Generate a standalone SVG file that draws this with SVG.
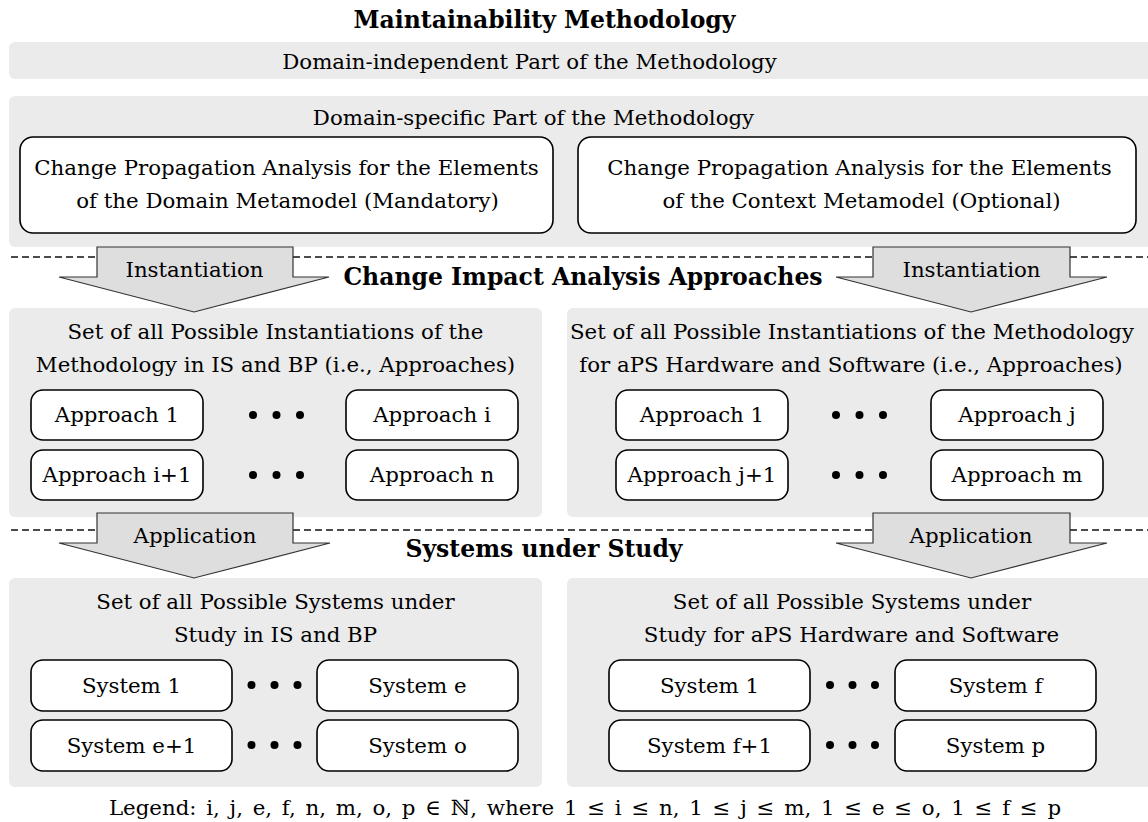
<svg xmlns="http://www.w3.org/2000/svg" width="1148" height="822" viewBox="0 0 1148 822">
<defs>
<style>
.panel{fill:#ebebeb}
.box{fill:#fff;stroke:#000;stroke-width:1.6}
.t{font-family:"DejaVu Serif","Liberation Serif",serif;font-size:21.3px;fill:#000;text-anchor:middle}
.b{font-family:"DejaVu Serif","Liberation Serif",serif;font-weight:bold;font-size:23.5px;fill:#000;text-anchor:middle}
.arrow{fill:#dedede;stroke:#333;stroke-width:1.2;stroke-linejoin:miter}
.sep{fill:none;stroke:#111;stroke-width:1.4;stroke-dasharray:7 4}
.dot{fill:#000}
.leg{word-spacing:3px}
</style>
</defs>
<rect width="1148" height="822" fill="#fff"/>

<g id="title"><text class="b" x="544.5" y="28">Maintainability Methodology</text></g>

<g id="domain-independent">
<rect class="panel" x="9" y="42" width="1160" height="37" rx="6"/>
<text class="t" x="529.5" y="69">Domain-independent Part of the Methodology</text>
</g>

<g id="domain-specific">
<rect class="panel" x="9" y="96" width="1160" height="151" rx="6"/>
<text class="t" x="533.5" y="125">Domain-specific Part of the Methodology</text>
</g>
<g id="cpa-domain">
<rect class="box" x="20" y="137" width="533" height="96" rx="13"/>
<text class="t" x="286.5" y="175">Change Propagation Analysis for the Elements</text>
<text class="t" x="287.5" y="208">of the Domain Metamodel (Mandatory)</text>
</g>
<g id="cpa-context">
<rect class="box" x="578" y="137" width="558" height="96" rx="13"/>
<text class="t" x="859.5" y="175">Change Propagation Analysis for the Elements</text>
<text class="t" x="861.5" y="208">of the Context Metamodel (Optional)</text>
</g>

<g id="separators">
<path class="sep" d="M11 257H97M293 257H873M1070 257H1148"/>
<path class="sep" d="M11 530H97M293 530H873M1070 530H1148"/>
</g>

<g id="label-cia"><text class="b" x="583" y="285">Change Impact Analysis Approaches</text></g>
<g id="label-sus"><text class="b" x="544" y="557">Systems under Study</text></g>

<g id="approaches-isbp">
<rect class="panel" x="9" y="308" width="533" height="209" rx="6"/>
<text class="t" x="275.5" y="339">Set of all Possible Instantiations of the</text>
<text class="t" x="275.5" y="372">Methodology in IS and BP (i.e., Approaches)</text>
</g>
<g id="approach-l-1"><rect class="box" x="31" y="390" width="172" height="50" rx="12"/><text class="t" x="117" y="422">Approach 1</text></g>
<g id="approach-l-i"><rect class="box" x="346" y="390" width="172" height="50" rx="12"/><text class="t" x="432" y="422">Approach i</text></g>
<g id="approach-l-i1"><rect class="box" x="31" y="450" width="172" height="50" rx="12"/><text class="t" x="117" y="482">Approach i+1</text></g>
<g id="approach-l-n"><rect class="box" x="346" y="450" width="172" height="50" rx="12"/><text class="t" x="432" y="482">Approach n</text></g>
<g id="dots-approach-l">
<circle class="dot" cx="253" cy="415" r="4"/><circle class="dot" cx="276.5" cy="415" r="4"/><circle class="dot" cx="300" cy="415" r="4"/>
<circle class="dot" cx="253" cy="475" r="4"/><circle class="dot" cx="276.5" cy="475" r="4"/><circle class="dot" cx="300" cy="475" r="4"/>
</g>

<g id="approaches-aps">
<rect class="panel" x="567" y="308" width="600" height="209" rx="6"/>
<text class="t" x="852" y="339">Set of all Possible Instantiations of the Methodology</text>
<text class="t" x="851" y="372">for aPS Hardware and Software (i.e., Approaches)</text>
</g>
<g id="approach-r-1"><rect class="box" x="616" y="390" width="172" height="50" rx="12"/><text class="t" x="702" y="422">Approach 1</text></g>
<g id="approach-r-j"><rect class="box" x="931" y="390" width="172" height="50" rx="12"/><text class="t" x="1017" y="422">Approach j</text></g>
<g id="approach-r-j1"><rect class="box" x="616" y="450" width="172" height="50" rx="12"/><text class="t" x="702" y="482">Approach j+1</text></g>
<g id="approach-r-m"><rect class="box" x="931" y="450" width="172" height="50" rx="12"/><text class="t" x="1017" y="482">Approach m</text></g>
<g id="dots-approach-r">
<circle class="dot" cx="836" cy="415" r="4"/><circle class="dot" cx="859.5" cy="415" r="4"/><circle class="dot" cx="883" cy="415" r="4"/>
<circle class="dot" cx="836" cy="475" r="4"/><circle class="dot" cx="859.5" cy="475" r="4"/><circle class="dot" cx="883" cy="475" r="4"/>
</g>

<g id="systems-isbp">
<rect class="panel" x="9" y="578" width="533" height="209" rx="6"/>
<text class="t" x="275.5" y="609">Set of all Possible Systems under</text>
<text class="t" x="275.5" y="642">Study in IS and BP</text>
</g>
<g id="system-l-1"><rect class="box" x="31" y="660" width="201" height="51" rx="12"/><text class="t" x="131.5" y="693">System 1</text></g>
<g id="system-l-e"><rect class="box" x="317" y="660" width="201" height="51" rx="12"/><text class="t" x="417.5" y="693">System e</text></g>
<g id="system-l-e1"><rect class="box" x="31" y="720" width="201" height="51" rx="12"/><text class="t" x="131.5" y="753">System e+1</text></g>
<g id="system-l-o"><rect class="box" x="317" y="720" width="201" height="51" rx="12"/><text class="t" x="417.5" y="753">System o</text></g>
<g id="dots-system-l">
<circle class="dot" cx="251.5" cy="685" r="4"/><circle class="dot" cx="274.5" cy="685" r="4"/><circle class="dot" cx="297.5" cy="685" r="4"/>
<circle class="dot" cx="251.5" cy="745" r="4"/><circle class="dot" cx="274.5" cy="745" r="4"/><circle class="dot" cx="297.5" cy="745" r="4"/>
</g>

<g id="systems-aps">
<rect class="panel" x="567" y="578" width="600" height="209" rx="6"/>
<text class="t" x="852" y="609">Set of all Possible Systems under</text>
<text class="t" x="851.5" y="642">Study for aPS Hardware and Software</text>
</g>
<g id="system-r-1"><rect class="box" x="609" y="660" width="201" height="51" rx="12"/><text class="t" x="709.5" y="693">System 1</text></g>
<g id="system-r-f"><rect class="box" x="895" y="660" width="201" height="51" rx="12"/><text class="t" x="995.5" y="693">System f</text></g>
<g id="system-r-f1"><rect class="box" x="609" y="720" width="201" height="51" rx="12"/><text class="t" x="709.5" y="753">System f+1</text></g>
<g id="system-r-p"><rect class="box" x="895" y="720" width="201" height="51" rx="12"/><text class="t" x="995.5" y="753">System p</text></g>
<g id="dots-system-r">
<circle class="dot" cx="830" cy="685" r="4"/><circle class="dot" cx="852.5" cy="685" r="4"/><circle class="dot" cx="875" cy="685" r="4"/>
<circle class="dot" cx="830" cy="745" r="4"/><circle class="dot" cx="852.5" cy="745" r="4"/><circle class="dot" cx="875" cy="745" r="4"/>
</g>

<g id="connectors">
<g id="inst-left"><polygon class="arrow" points="97,247 293,247 293,277 329,277 194,312 59,277 97,277"/><text class="t" x="194.5" y="277">Instantiation</text></g>
<g id="inst-right"><polygon class="arrow" points="873,247 1070,247 1070,277 1107,277 971,312 836,277 873,277"/><text class="t" x="971.5" y="277">Instantiation</text></g>
<g id="app-left"><polygon class="arrow" points="97,513 293,513 293,543 330,543 194,578 59,543 97,543"/><text class="t" x="195" y="543">Application</text></g>
<g id="app-right"><polygon class="arrow" points="873,513 1070,513 1070,543 1107,543 971,578 836,543 873,543"/><text class="t" x="971" y="543">Application</text></g>
</g>

<g id="legend"><text class="t leg" x="585" y="815">Legend: i, j, e, f, n, m, o, p ∈ ℕ, where 1 ≤ i ≤ n, 1 ≤ j ≤ m, 1 ≤ e ≤ o, 1 ≤ f ≤ p</text></g>
</svg>
